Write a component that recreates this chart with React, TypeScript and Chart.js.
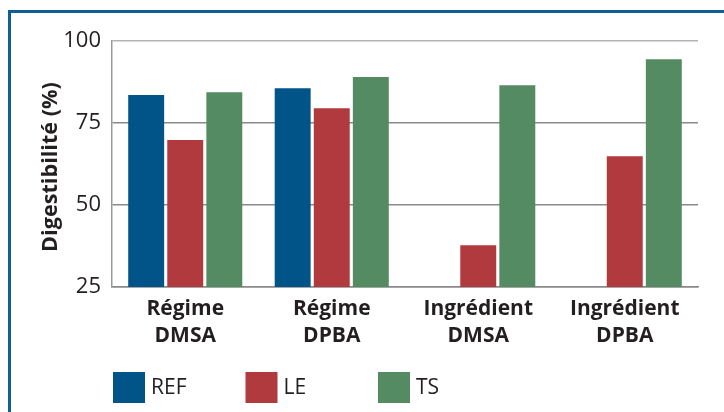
import { useEffect, useRef } from 'react';
import { Chart, registerables } from 'chart.js';

Chart.register(...registerables);

const categories = [
  ['Régime', 'DMSA'],
  ['Régime', 'DPBA'],
  ['Ingrédient', 'DMSA'],
  ['Ingrédient', 'DPBA'],
];
const seriesNames = ['REF', 'LE', 'TS'];
const refValues = [83.5, 85.6, null, null];
const leValues = [69.8, 79.5, 37.7, 64.9];
const tsValues = [84.4, 89.0, 86.5, 94.4];
const yTickValues = [25, 50, 75, 100];
const yTitle = 'Digestibilité (%)';

const COLORS = ['#005488', '#b03a3e', '#548b62'];
const FONT = "'Open Sans', sans-serif";
const TEXT = '#231f20';

const legendPlugin = {
  id: 'customLegend',
  afterDraw(chart: any) {
    const ctx = chart.ctx;
    const left = chart.chartArea.left;
    chart.data.datasets.forEach((ds: any, i: number) => {
      const x = left + 1 + i * 132.5;
      const y = 372;
      ctx.save();
      ctx.fillStyle = ds.backgroundColor;
      ctx.fillRect(x, y, 32, 31);
      ctx.fillStyle = TEXT;
      ctx.font = `21px ${FONT}`;
      ctx.textBaseline = 'middle';
      ctx.textAlign = 'left';
      ctx.fillText(ds.label, x + 38, y + 16);
      ctx.restore();
    });
  },
};

const yTitlePlugin = {
  id: 'yTitle',
  afterDraw(chart: any) {
    const ctx = chart.ctx;
    ctx.save();
    let size = 21;
    ctx.font = `bold ${size}px ${FONT}`;
    const w = ctx.measureText(yTitle).width;
    if (w > 0) {
      size = Math.max(12, Math.min(24, (size * 170) / w));
      ctx.font = `bold ${size}px ${FONT}`;
    }
    const cy = (chart.chartArea.top + chart.chartArea.bottom) / 2 + 3;
    ctx.translate(57, cy);
    ctx.rotate(-Math.PI / 2);
    ctx.fillStyle = TEXT;
    ctx.textAlign = 'center';
    ctx.textBaseline = 'alphabetic';
    ctx.fillText(yTitle, 0, 0);
    ctx.restore();
  },
};

export default function App() {
  const ref = useRef<HTMLCanvasElement | null>(null);

  useEffect(() => {
    if (!ref.current) return;
    const series = [refValues, leValues, tsValues];
    const chart = new Chart(ref.current, {
      type: 'bar',
      data: {
        labels: categories as any,
        datasets: seriesNames.map((name, i) => ({
          label: name,
          data: series[i] as any,
          backgroundColor: COLORS[i],
          borderWidth: 0,
          categoryPercentage: 0.8,
          barPercentage: 0.92,
        })),
      },
      options: {
        animation: false,
        responsive: false,
        devicePixelRatio: 1,
        layout: { padding: { left: 0, top: 41, right: 26, bottom: 0 } },
        plugins: {
          legend: { display: false },
          tooltip: { enabled: false },
        },
        scales: {
          x: {
            grid: { display: false, drawTicks: false },
            border: { display: true, color: '#8a8a8a', width: 1.5 },
            ticks: {
              color: TEXT,
              font: { family: FONT, size: 21, weight: 'bold', lineHeight: 1.27 },
              padding: 9,
              maxRotation: 0,
              autoSkip: false,
            },
            afterFit(scale: any) {
              scale.height = 125;
            },
          },
          y: {
            min: 25,
            max: 100,
            afterBuildTicks(scale: any) {
              scale.ticks = yTickValues.map((v) => ({ value: v }));
            },
            grid: {
              drawTicks: false,
              color: (c: any) => (c.tick && c.tick.value === 100 ? '#b4b4b4' : '#8a8a8a'),
              lineWidth: 1.5,
            },
            border: { display: true, color: '#9a9a9a', width: 1.5 },
            ticks: {
              color: TEXT,
              font: { family: FONT, size: 22 },
              padding: 11,
            },
            title: { display: false },
            afterFit(scale: any) {
              scale.width = 112;
            },
          },
        },
      },
      plugins: [legendPlugin, yTitlePlugin],
    });
    return () => chart.destroy();
  }, []);

  return (
    <div style={{ position: 'fixed', left: 0, top: 0, width: 724, height: 412, background: '#fff', overflow: 'hidden' }}>
      <canvas ref={ref} width={724} height={412} style={{ position: 'absolute', left: 0, top: 0 }} />
      <div
        style={{
          position: 'absolute',
          left: 8,
          top: 10,
          width: 800,
          height: 600,
          borderLeft: '3px solid #115e96',
          borderTop: '3px solid #115e96',
          pointerEvents: 'none',
        }}
      />
    </div>
  );
}
